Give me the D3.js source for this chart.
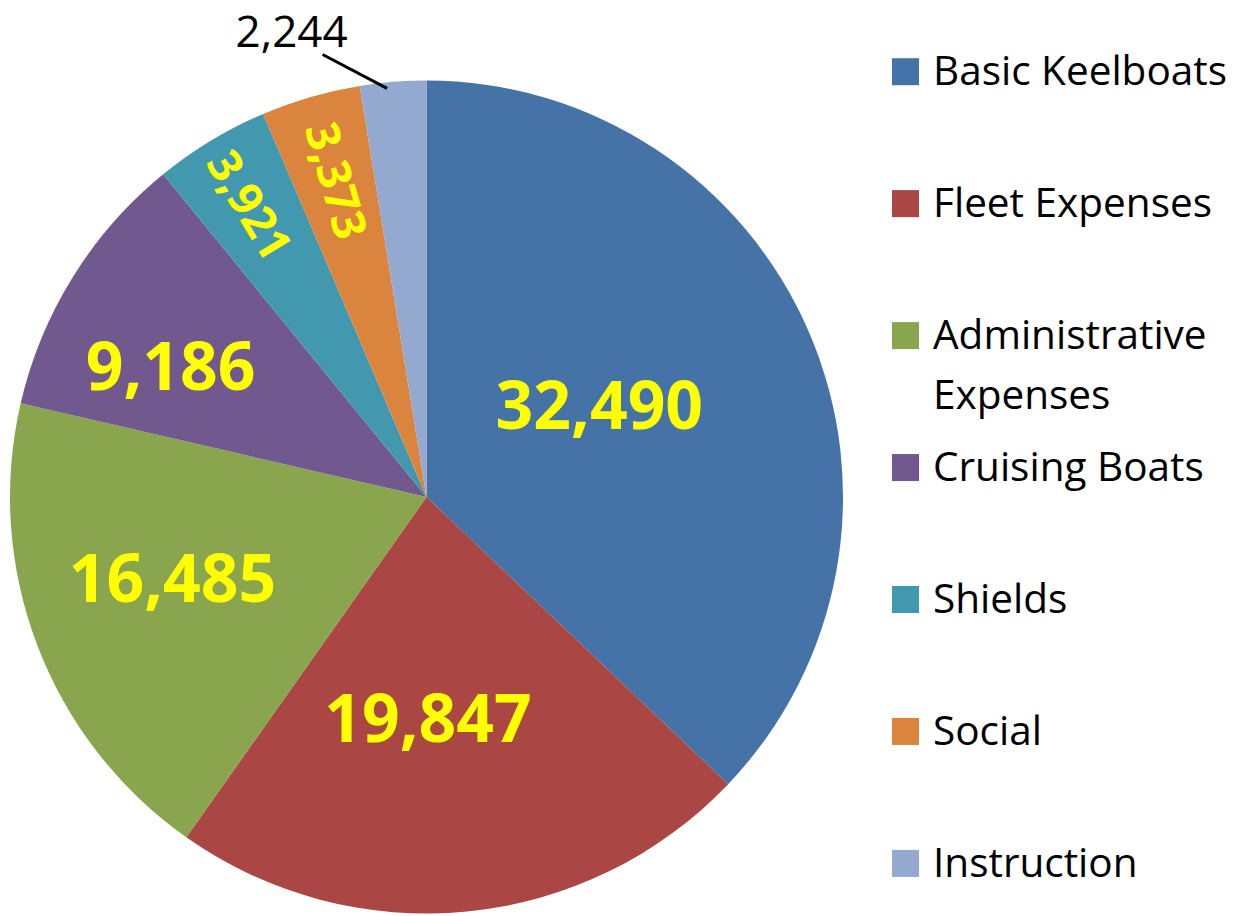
<!DOCTYPE html>
<html>
<head>
<meta charset="utf-8">
<script src="https://cdn.jsdelivr.net/npm/d3@7/dist/d3.min.js"></script>
<style>
  html, body { margin: 0; padding: 0; background: #ffffff; }
  svg { display: block; }
</style>
</head>
<body>
<svg id="chart" width="1235" height="916"></svg>
<script>
// ---- Data ----
const categories = ["Basic Keelboats", "Fleet Expenses", "Administrative Expenses", "Cruising Boats", "Shields", "Social", "Instruction"];
const values = [32490, 19847, 16485, 9186, 3921, 3373, 2244];
const valueLabels = ["32,490", "19,847", "16,485", "9,186", "3,921", "3,373", "2,244"];
const legendLines = [["Basic Keelboats"], ["Fleet Expenses"], ["Administrative", "Expenses"], ["Cruising Boats"], ["Shields"], ["Social"], ["Instruction"]];

// ---- Styles / layout ----
const colors = ["#4572A7", "#AA4643", "#89A54E", "#71588F", "#4198AF", "#DB843D", "#93A9CF"];
const labelRadiusFrac = [0.47, 0.53, 0.64, 0.69, 0.82, 0.79, null];
const labelAngleShift = [-4.8, 5.2, 3.2, -4.8, 0, 0.3, 0];   // degrees
const labelSize = [66, 66, 66, 66, 46, 46, 44];
const labelRotated = [false, false, false, false, true, true, false];

const W = 1235, H = 916;
const cx = 426.5, cy = 497, R = 416.5;
const FONT = "'Open Sans', 'Noto Sans', sans-serif";

const svg = d3.select("#chart");
const g = svg.append("g").attr("transform", `translate(${cx},${cy})`);

const pie = d3.pie().sort(null).value(d => d).startAngle(0).endAngle(2 * Math.PI);
const arcs = pie(values);
const arc = d3.arc().innerRadius(0).outerRadius(R);

g.selectAll("path.slice")
  .data(arcs)
  .enter().append("path")
  .attr("class", "slice")
  .attr("d", arc)
  .attr("fill", (d, i) => colors[i]);

const deg = Math.PI / 180;
function polar(r, a) { return [r * Math.sin(a), -r * Math.cos(a)]; }

// inside labels
arcs.forEach((d, i) => {
  if (labelRadiusFrac[i] == null) return;
  const mid = (d.startAngle + d.endAngle) / 2 + labelAngleShift[i] * deg;
  const [x, y] = polar(R * labelRadiusFrac[i], mid);
  const rot = labelRotated[i] ? (mid / deg - 270) : 0;
  g.append("text")
    .attr("transform", `translate(${x},${y}) rotate(${rot})`)
    .attr("text-anchor", "middle")
    .attr("dy", "0.36em")
    .attr("font-family", FONT)
    .attr("font-weight", "bold")
    .attr("font-size", labelSize[i])
    .attr("fill", "#FFFF00")
    .text(valueLabels[i]);
});

// outside label with leader line (Instruction)
{
  const i = 6, d = arcs[i];
  const mid = (d.startAngle + d.endAngle) / 2;
  const [x1, y1] = polar(R - 6, mid - 0.9 * deg);
  const [x2, y2] = polar(R + 38, mid - 8.6 * deg);
  g.append("line")
    .attr("x1", x1).attr("y1", y1).attr("x2", x2).attr("y2", y2)
    .attr("stroke", "#000").attr("stroke-width", 3);
  g.append("text")
    .attr("x", x2 - 31).attr("y", y2 - 8)
    .attr("text-anchor", "middle")
    .attr("font-family", FONT)
    .attr("font-size", labelSize[i])
    .attr("fill", "#000")
    .text(valueLabels[i]);
}

// legend
const legend = svg.append("g");
const legY0 = 71.7, legStep = 131.95;
categories.forEach((c, i) => {
  const yc = legY0 + i * legStep;
  legend.append("rect")
    .attr("x", 892).attr("y", yc - 13.5)
    .attr("width", 27).attr("height", 27)
    .attr("fill", colors[i]);
  const t = legend.append("text")
    .attr("x", 933).attr("y", yc + 13.5)
    .attr("font-family", FONT)
    .attr("font-size", 40.5)
    .attr("fill", "#000");
  legendLines[i].forEach((ln, j) => {
    t.append("tspan").attr("x", 933).attr("dy", j === 0 ? 0 : 59.5).text(ln);
  });
});
</script>
</body>
</html>
